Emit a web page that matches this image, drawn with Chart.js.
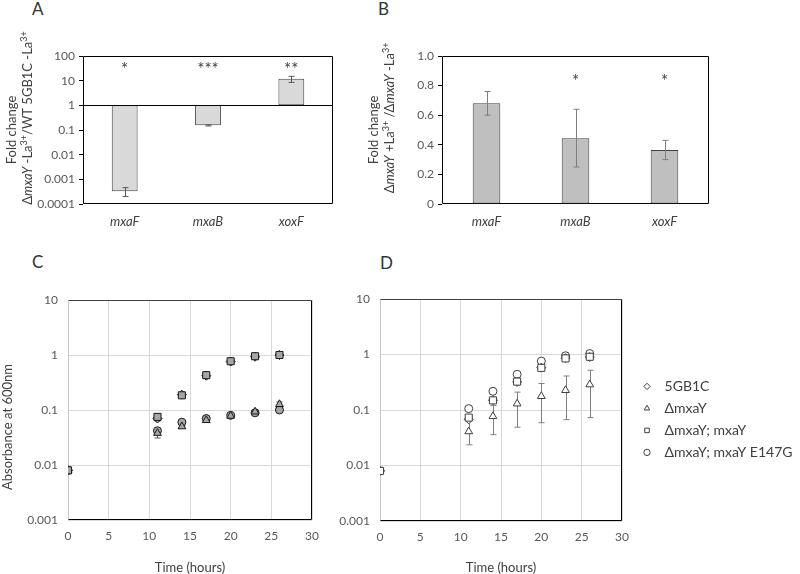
<!DOCTYPE html>
<html>
<head>
<meta charset="utf-8">
<script src="https://cdn.jsdelivr.net/npm/chart.js@4.4.1/dist/chart.umd.min.js"></script>
<style>
  body { margin: 0; width: 800px; height: 574px; background: #fff; position: relative; overflow: hidden; }
  .box { position: absolute; }
  .tag { position: absolute; font: 17px Lato, sans-serif; line-height: 17px; color: #333; }
</style>
</head>
<body>
<div class="tag" style="left:32px;top:0px">A</div>
<div class="tag" style="left:378px;top:0px">B</div>
<div class="tag" style="left:32px;top:253px">C</div>
<div class="tag" style="left:380px;top:254px">D</div>
<div class="box" style="left:0;top:0;width:380px;height:240px"><canvas id="chartA"></canvas></div>
<div class="box" style="left:360px;top:0;width:440px;height:240px"><canvas id="chartB"></canvas></div>
<div class="box" style="left:0;top:240px;width:380px;height:334px"><canvas id="chartC"></canvas></div>
<div class="box" style="left:320px;top:240px;width:480px;height:334px"><canvas id="chartD"></canvas></div>
<script>
// gene expression (panels A, B)
const genes = ['mxaF', 'mxaB', 'xoxF'];
const foldA = [0.00033, 0.155, 12];
const lowA = [0.0002, 0.146, 8.5];
const highA = [0.00046, 0.162, 15];
const starsA = ['*', '***', '**'];
const ticksA = [0.0001, 0.001, 0.01, 0.1, 1, 10, 100];

const foldB = [0.68, 0.445, 0.365];
const lowB = [0.6, 0.25, 0.3];
const highB = [0.76, 0.64, 0.43];
const starsB = ['', '*', '*'];

// growth curves (panels C, D)
const hours = [0, 11, 14, 17, 20, 23, 26];
const strains = ['5GB1C', 'ΔmxaY', 'ΔmxaY; mxaY', 'ΔmxaY; mxaY E147G'];
const odTicks = [0.001, 0.01, 0.1, 1, 10];

const wtC = [0.008, 0.07, 0.19, 0.42, 0.76, 0.93, 1.0];
const delC = [0.008, 0.038, 0.05, 0.065, 0.078, 0.093, 0.127];
const compC = [0.008, 0.075, 0.185, 0.43, 0.77, 0.95, 1.0];
const e147C = [0.008, 0.042, 0.06, 0.07, 0.08, 0.089, 0.1];
const delLowC = [null, 0.031, 0.047, 0.062, 0.075, 0.088, 0.115];
const delHighC = [null, 0.044, 0.053, 0.068, 0.081, 0.1, 0.14];
const compLowC = [null, 0.063, 0.17, 0.41, 0.74, 0.9, 0.97];
const compHighC = [null, 0.085, 0.2, 0.45, 0.8, 0.97, 1.03];

const wtD = [0.008, 0.068, 0.15, 0.32, 0.58, 0.86, 0.9];
const delD = [0.008, 0.041, 0.077, 0.13, 0.177, 0.227, 0.287];
const compD = [0.008, 0.073, 0.149, 0.325, 0.575, 0.85, 0.91];
const e147D = [0.008, 0.106, 0.217, 0.44, 0.76, 0.95, 1.04];
const delLowD = [null, 0.0236, 0.036, 0.049, 0.059, 0.067, 0.073];
const delHighD = [null, 0.075, 0.12, 0.21, 0.3, 0.41, 0.52];

Chart.defaults.font.family = "Lato, 'Open Sans', sans-serif";
Chart.defaults.font.size = 12;
Chart.defaults.color = '#595959';

const shapes = ['rectRot', 'triangle', 'rect', 'circle'];
const radii = [4.5, 4.5, 5, 4];

function drawRich(ctx, x, y, segs) {
  const fontOf = s => (s[1] === 'i' ? 'italic ' : '') + (s[1] === 's' ? '9px' : '13px') + " Lato, sans-serif";
  ctx.save();
  ctx.translate(x, y);
  ctx.rotate(-Math.PI / 2);
  ctx.fillStyle = '#404040';
  ctx.textBaseline = 'middle';
  ctx.textAlign = 'left';
  let total = 0;
  segs.forEach(s => { ctx.font = fontOf(s); total += ctx.measureText(s[0]).width; });
  let cx = -total / 2;
  segs.forEach(s => {
    ctx.font = fontOf(s);
    ctx.fillText(s[0], cx, s[1] === 's' ? -4 : 0);
    cx += ctx.measureText(s[0]).width;
  });
  ctx.restore();
}

function drawErrs(chart, o) {
  const ctx = chart.ctx, y = chart.scales.y;
  ctx.save();
  ctx.strokeStyle = o.errColor || '#595959';
  ctx.lineWidth = 1;
  (o.errs || []).forEach(e => {
    const pts = chart.getDatasetMeta(e.ds).data;
    e.lo.forEach((lo, i) => {
      if (lo == null) return;
      const x = Math.round(pts[i].x) + 0.5;
      const y1 = y.getPixelForValue(lo), y2 = y.getPixelForValue(e.hi[i]);
      ctx.beginPath();
      ctx.moveTo(x, y1); ctx.lineTo(x, y2);
      ctx.moveTo(x - e.cap, y1); ctx.lineTo(x + e.cap, y1);
      ctx.moveTo(x - e.cap, y2); ctx.lineTo(x + e.cap, y2);
      ctx.stroke();
    });
  });
  ctx.restore();
}

const decor = {
  id: 'decor',
  beforeDatasetsDraw(chart, args, o) {
    const ctx = chart.ctx, a = chart.chartArea;
    const l = Math.round(a.left) + 0.5, r = Math.round(a.right) - 0.5;
    const t = Math.round(a.top) + 0.5, b = Math.round(a.bottom) - 0.5;
    ctx.save();
    ctx.lineWidth = 1;
    ctx.strokeStyle = o.frameLeft || '#000';
    ctx.beginPath(); ctx.moveTo(l, t); ctx.lineTo(l, b); ctx.stroke();
    ctx.strokeStyle = o.frameTop || '#000';
    ctx.beginPath(); ctx.moveTo(l, t); ctx.lineTo(r, t); ctx.stroke();
    ctx.strokeStyle = '#000';
    ctx.beginPath(); ctx.moveTo(r, t); ctx.lineTo(r, b); ctx.lineTo(l, b); ctx.stroke();
    ctx.restore();
    if (o.errBehind) drawErrs(chart, o);
  },
  afterDatasetsDraw(chart, args, o) {
    const ctx = chart.ctx, a = chart.chartArea, y = chart.scales.y;
    if (!o.errBehind) drawErrs(chart, o);
    ctx.save();
    if (o.refLine != null) {
      const py = Math.round(y.getPixelForValue(o.refLine)) + 0.5;
      ctx.strokeStyle = '#000';
      ctx.lineWidth = 1;
      ctx.beginPath(); ctx.moveTo(a.left, py); ctx.lineTo(a.right, py); ctx.stroke();
    }
    if (o.stars) {
      const pts = chart.getDatasetMeta(0).data;
      ctx.fillStyle = '#404040';
      ctx.font = "17px Lato, sans-serif";
      ctx.textAlign = 'center';
      ctx.textBaseline = 'alphabetic';
      o.stars.labels.forEach((s, i) => {
        if (s) ctx.fillText(s, pts[i].x, y.getPixelForValue(o.stars.at) + 10);
      });
    }
    ctx.restore();
  },
  afterDraw(chart, args, o) {
    const a = chart.chartArea;
    const cy = (a.top + a.bottom) / 2;
    (o.yTitle || []).forEach(line => drawRich(chart.ctx, line.x, cy + line.dy, line.segs));
  }
};

function fixedTicks(list) {
  return s => { s.ticks = list.map(v => ({ value: v })); };
}

// Panel A
new Chart(document.getElementById('chartA'), {
  type: 'bar',
  data: {
    labels: genes,
    datasets: [{
      data: foldA.map(v => [1, v]),
      backgroundColor: '#d9d9d9',
      borderColor: '#404040',
      borderWidth: 1,
      borderSkipped: false,
      categoryPercentage: 1,
      barPercentage: 0.31
    }]
  },
  options: {
    responsive: true, maintainAspectRatio: false, animation: false,
    layout: { padding: { left: 0, top: 56, right: 47, bottom: 6 } },
    plugins: {
      legend: { display: false }, tooltip: { enabled: false },
      decor: {
        refLine: 1,
        errs: [{ ds: 0, lo: lowA, hi: highA, cap: 3 }],
        stars: { labels: starsA, at: 45 },
        yTitle: [
          { x: 12, dy: 0, segs: [['Fold change', 'n']] },
          { x: 28, dy: -12, segs: [['Δ', 'n'], ['mxaY', 'i'], [' -La', 'n'], ['3+', 's'], ['/WT 5GB1C -La', 'n'], ['3+', 's']] }
        ]
      }
    },
    scales: {
      x: {
        grid: { display: false }, border: { display: false },
        ticks: { padding: 2, color: '#404040', font: { size: 13, style: 'italic' } },
        afterFit: s => { s.height = 30; }
      },
      y: {
        type: 'logarithmic', min: 0.0001, max: 100,
        afterBuildTicks: fixedTicks(ticksA),
        ticks: { padding: 4, callback: v => String(v) },
        grid: { drawOnChartArea: false, tickLength: 4, color: '#000' },
        border: { display: false },
        afterFit: s => { s.width = 83; }
      }
    }
  },
  plugins: [decor]
});

// Panel B
new Chart(document.getElementById('chartB'), {
  type: 'bar',
  data: {
    labels: genes,
    datasets: [{
      data: foldB,
      backgroundColor: '#bfbfbf',
      borderColor: '#404040',
      borderWidth: 1,
      borderSkipped: false,
      categoryPercentage: 1,
      barPercentage: 0.31
    }]
  },
  options: {
    responsive: true, maintainAspectRatio: false, animation: false,
    layout: { padding: { left: 0, top: 56, right: 91, bottom: 6 } },
    plugins: {
      legend: { display: false }, tooltip: { enabled: false },
      decor: {
        errs: [{ ds: 0, lo: lowB, hi: highB, cap: 3 }],
        errColor: '#7f7f7f',
        stars: { labels: starsB, at: 0.86 },
        yTitle: [
          { x: 14, dy: 0, segs: [['Fold change', 'n']] },
          { x: 30, dy: -12, segs: [['Δ', 'n'], ['mxaY', 'i'], [' +La', 'n'], ['3+', 's'], [' /Δ', 'n'], ['mxaY', 'i'], [' -La', 'n'], ['3+', 's']] }
        ]
      }
    },
    scales: {
      x: {
        grid: { display: false }, border: { display: false },
        ticks: { padding: 2, color: '#404040', font: { size: 13, style: 'italic' } },
        afterFit: s => { s.height = 30; }
      },
      y: {
        min: 0, max: 1,
        ticks: { stepSize: 0.2, padding: 4 },
        grid: { drawOnChartArea: false, tickLength: 4, color: '#000' },
        border: { display: false },
        afterFit: s => { s.width = 82; }
      }
    }
  },
  plugins: [decor]
});

function growthSets(series, fill, border) {
  return series.map((vals, k) => ({
    label: strains[k],
    data: hours.map((h, i) => ({ x: h, y: vals[i] })),
    pointStyle: shapes[k],
    pointRadius: radii[k],
    pointBackgroundColor: fill,
    pointBorderColor: border,
    backgroundColor: fill,
    borderColor: border,
    pointBorderWidth: 1,
    borderWidth: 1,
    order: k === 2 ? 0 : 1
  }));
}

function growthScales(extra) {
  return Object.assign({
    x: {
      type: 'linear', min: 0, max: 30,
      ticks: { stepSize: 5, padding: 9 },
      grid: { color: '#d9d9d9', drawTicks: false },
      border: { display: false },
      title: { display: true, text: 'Time (hours)', color: '#404040', font: { size: 13, lineHeight: 1 }, padding: 0 },
      afterFit: s => { s.height = 54; }
    },
    y: {
      type: 'logarithmic', min: 0.001, max: 10,
      afterBuildTicks: fixedTicks(odTicks),
      ticks: { padding: 10, callback: v => String(v) },
      grid: { color: '#d9d9d9', drawTicks: false },
      border: { display: false },
      afterFit: s => { s.width = 68; }
    }
  }, extra || {});
}

// Panel C
new Chart(document.getElementById('chartC'), {
  type: 'scatter',
  data: { datasets: growthSets([wtC, delC, compC, e147C], '#a6a6a6', '#1a1a1a') },
  options: {
    responsive: true, maintainAspectRatio: false, animation: false,
    layout: { padding: { left: 0, top: 60, right: 68, bottom: 0 } },
    plugins: {
      legend: { display: false }, tooltip: { enabled: false },
      decor: {
        frameLeft: '#c8c8c8', frameTop: '#404040',
        errBehind: true,
        errs: [
          { ds: 1, lo: delLowC, hi: delHighC, cap: 3 },
          { ds: 2, lo: compLowC, hi: compHighC, cap: 3 }
        ],
        yTitle: [{ x: 8, dy: 17, segs: [['Absorbance at 600nm', 'n']] }]
      }
    },
    scales: growthScales()
  },
  plugins: [decor]
});

// Panel D
const scalesD = growthScales({
  yR: {
    type: 'linear', position: 'right', display: true,
    grid: { display: false }, border: { display: false }, ticks: { display: false },
    afterFit: s => { s.width = 10; }
  }
});
scalesD.y.afterFit = s => { s.width = 60; };
scalesD.x.afterFit = s => { s.height = 53; };

new Chart(document.getElementById('chartD'), {
  type: 'scatter',
  data: { datasets: growthSets([wtD, delD, compD, e147D], '#ffffff', '#404040') },
  options: {
    responsive: true, maintainAspectRatio: false, animation: false,
    layout: { padding: { left: 0, top: 59, right: 8, bottom: 0 } },
    plugins: {
      tooltip: { enabled: false },
      legend: {
        position: 'right', align: 'start', maxWidth: 160,
        title: { display: true, text: '', padding: { top: 58, bottom: 0 } },
        labels: {
          usePointStyle: true, boxWidth: 14, boxHeight: 4.5, padding: 8,
          color: '#404040', font: { size: 14 },
          sort: (a, b) => a.datasetIndex - b.datasetIndex,
          generateLabels: chart => {
            const items = Chart.defaults.plugins.legend.labels.generateLabels(chart);
            items.forEach(it => { it.text = ' ' + it.text; });
            return items;
          }
        }
      },
      decor: {
        frameLeft: '#c8c8c8', frameTop: '#404040',
        errBehind: true, errColor: '#7f7f7f',
        errs: [{ ds: 1, lo: delLowD, hi: delHighD, cap: 3 }]
      }
    },
    scales: scalesD
  },
  plugins: [decor]
});
</script>
</body>
</html>
